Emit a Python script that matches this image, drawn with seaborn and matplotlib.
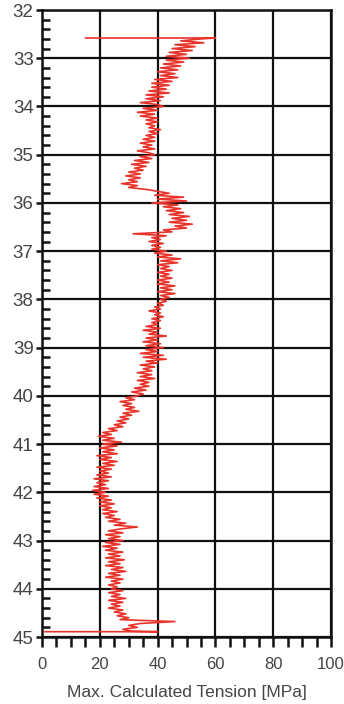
import numpy as np
import pandas as pd
import matplotlib
matplotlib.use("Agg")
import matplotlib.pyplot as plt
from matplotlib.ticker import MultipleLocator
import seaborn as sns

# ---- data ----
# spike lines at the top and bottom of the log
start_depth = [32.58, 32.58]
start_tension = [15, 60]
end_depth = [44.89, 44.89]
end_tension = [40, 1]

# main trace sampled every 0.04 m from 32.60 to 44.88
trace_start = 32.60
trace_step = 0.04
t_3260 = [55, 48, 56, 46, 53, 45, 52, 44, 50, 43]
t_33 = [51, 43, 49, 42, 48, 41, 47, 40, 46, 41, 47, 39, 45, 38, 44, 38, 43, 37, 44, 36, 42, 36, 41, 34, 40]
t_34 = [42, 35, 40, 33, 39, 34, 40, 36, 40, 36, 39, 37, 41, 37, 40, 36, 39, 35, 39, 34, 38, 35, 39, 33, 37]
t_35 = [39, 34, 38, 32, 37, 31, 36, 32, 35, 30, 34, 29, 34, 30, 33, 27.5, 33, 30, 36, 40, 44, 39, 49, 40, 50]
t_36 = [38, 47, 42, 48, 43, 49, 44, 51, 45, 50, 44, 52, 46, 50, 42, 45, 31.5, 43, 38, 41, 37, 42, 38, 41, 38]
t_37 = [43, 39, 45, 40, 48, 41, 47, 40, 44, 41, 45, 40, 44, 41, 45, 40, 44, 40, 46, 41, 45, 40, 46, 41, 44]
t_38 = [41, 43, 40, 42, 39, 41, 37, 41, 39, 42, 38, 41, 38, 40, 36, 41, 35, 40, 37, 43, 36, 40, 35, 41, 36]
t_39 = [42, 36, 40, 34, 42, 35, 43, 36, 40, 34, 39, 35, 38, 33, 38, 34, 39, 33, 37, 34, 37, 32, 36, 31, 35]
t_40 = [33, 29, 32, 27, 31, 28, 32, 29, 33.5, 28, 31, 27, 30, 26, 29, 25, 28, 23, 26, 21, 24, 19.5, 25, 21, 27.5]
t_41 = [21, 26, 20, 25, 21, 26, 19, 24, 20, 26, 21, 25, 19, 24, 20, 23, 19, 24, 18, 23, 19, 22, 18, 23, 17.5]
t_42 = [22, 18, 23, 19, 24, 20, 25, 20, 24, 21, 26, 21, 25, 22, 27, 23, 29, 25, 33, 27, 23, 28, 22, 27, 23]
t_43 = [28, 22, 27, 21, 26, 22, 28, 23, 27, 22, 28.5, 23, 27, 22, 28, 24, 29, 23, 27, 22, 28, 24, 27, 23, 26]
t_44 = [24, 28, 23, 27, 24, 29, 23, 28, 24, 27, 23, 28, 25, 29, 26, 30, 27, 46, 34, 30, 33, 28, 31]

trace_tension = (t_3260 + t_33 + t_34 + t_35 + t_36 + t_37 + t_38 + t_39
                 + t_40 + t_41 + t_42 + t_43 + t_44)
trace_depth = list(np.round(trace_start + trace_step * np.arange(len(trace_tension)), 3))

depth = start_depth + trace_depth + end_depth
tension = start_tension + trace_tension + end_tension
df = pd.DataFrame({"depth": depth, "tension": tension})

x_ticks = [0, 20, 40, 60, 80, 100]
y_ticks = list(range(32, 46))
xlabel = "Max. Calculated Tension [MPa]"

# ---- figure ----
sns.set_style("white")
plt.rcParams["font.family"] = ["Liberation Sans", "DejaVu Sans"]

fig = plt.figure(figsize=(3.44, 7.04), dpi=100)
ax = fig.add_axes([42 / 344, 1 - 637 / 704, (331 - 42) / 344, (637 - 10) / 704])

sns.lineplot(data=df, x="tension", y="depth", sort=False, estimator=None,
             orient="y", color="#e8332b", linewidth=1.2, ax=ax)

ax.set_xlim(0, 100)
ax.set_ylim(45, 32)
ax.set_xticks(x_ticks)
ax.set_yticks(y_ticks)
ax.xaxis.set_minor_locator(MultipleLocator(5))
ax.yaxis.set_minor_locator(MultipleLocator(0.2))

ax.grid(True, which="major", color="#111111", linewidth=1.6)
ax.set_axisbelow(True)
for s in ax.spines.values():
    s.set_visible(True)
    s.set_color("#111111")
    s.set_linewidth(1.8)

ax.tick_params(bottom=True, left=True, top=False, right=False, which="both")
# x axis: major and minor ticks pointing out
ax.tick_params(axis="x", which="both", direction="out", length=7.5, width=1.8,
               color="#111111")
ax.tick_params(axis="x", which="major", labelsize=12, labelcolor="#444444", pad=7)
# y axis: major out, minor in
ax.tick_params(axis="y", which="major", direction="out", length=4, width=1.8,
               color="#111111", labelsize=13.5, labelcolor="#444444", pad=2)
ax.tick_params(axis="y", which="minor", direction="in", length=6, width=1.8,
               color="#111111")

ax.set_xlabel(xlabel, fontsize=12.5, color="#444444", labelpad=9)
ax.set_ylabel("")

fig.savefig("out.png", dpi=100)
